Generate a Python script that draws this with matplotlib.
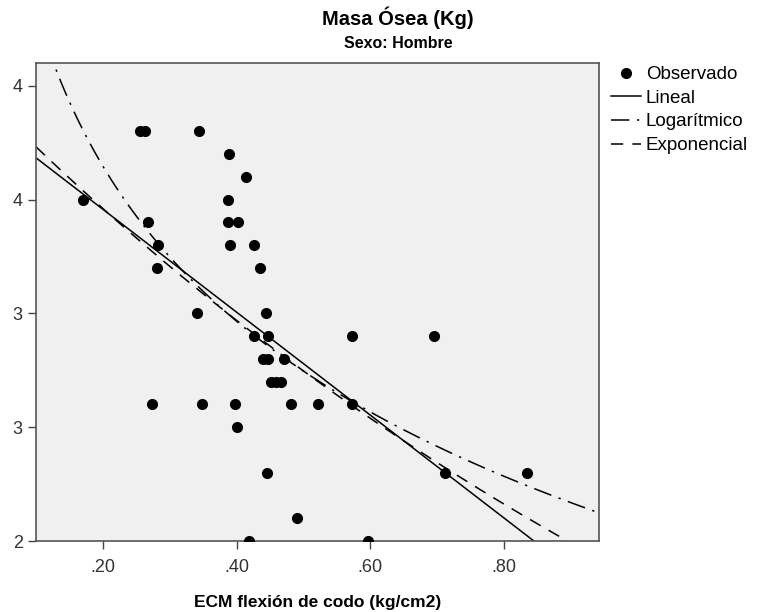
import numpy as np
import matplotlib
matplotlib.use('Agg')
import matplotlib.pyplot as plt

plt.rcParams['font.family'] = ['Liberation Sans', 'DejaVu Sans']

# ECM flexion de codo (kg/cm2) vs masa osea (kg)
ecm = [0.170, 0.255, 0.263, 0.344, 0.389, 0.414, 0.387, 0.387, 0.402, 0.267,
       0.282, 0.390, 0.426, 0.281, 0.435, 0.341, 0.444, 0.426, 0.447, 0.573,
       0.695, 0.439, 0.447, 0.471, 0.452, 0.459, 0.466, 0.273, 0.348, 0.398,
       0.481, 0.522, 0.573, 0.400, 0.445, 0.712, 0.834, 0.490, 0.418, 0.597]
masa = [4.0, 4.3, 4.3, 4.3, 4.2, 4.1, 4.0, 3.9, 3.9, 3.9,
        3.8, 3.8, 3.8, 3.7, 3.7, 3.5, 3.5, 3.4, 3.4, 3.4,
        3.4, 3.3, 3.3, 3.3, 3.2, 3.2, 3.2, 3.1, 3.1, 3.1,
        3.1, 3.1, 3.1, 3.0, 2.8, 2.8, 2.8, 2.6, 2.5, 2.5]

xticks = [0.2, 0.4, 0.6, 0.8]
xticklabels = ['.20', '.40', '.60', '.80']
yticks = [2.5, 3.0, 3.5, 4.0, 4.5]
yticklabels = ['2', '3', '3', '4', '4']

x = np.array(ecm)
y = np.array(masa)

# fitted curves
lin = np.polyfit(x, y, 1)
logc = np.polyfit(np.log(x), y, 1)
expc = np.polyfit(x, np.log(y), 1)

xmin, xmax = 0.1, 0.942
xs = np.linspace(xmin, xmax, 400)

fig = plt.figure(figsize=(7.57, 6.12), dpi=100)
ax = fig.add_axes([36/757, 71/612, 563/757, 478/612])
ax.set_facecolor('#f0f0f0')

ax.plot(x, y, 'o', color='black', markersize=7, label='Observado', zorder=3)
ax.plot(xs, np.polyval(lin, xs), color='black', lw=1.1, label='Lineal')
ax.plot(xs, np.polyval(logc, np.log(xs)), color='black', lw=1.1,
        dashes=[12, 5, 1.5, 5], label='Logarítmico')
ax.plot(xs, np.exp(np.polyval(expc, xs)), color='black', lw=1.1,
        dashes=[8, 6], label='Exponencial')

ax.set_xlim(xmin, xmax)
ax.set_ylim(2.5, 4.6)
ax.set_xticks(xticks)
ax.set_xticklabels(xticklabels)
ax.set_yticks(yticks)
ax.set_yticklabels(yticklabels)
ax.tick_params(direction='out', length=6, width=1, colors='#444444',
               labelsize=13, labelcolor='#333333')
ax.tick_params(axis='x', pad=7)
for s in ax.spines.values():
    s.set_color('#555555')
    s.set_linewidth(1.2)

ax.set_xlabel('ECM flexión de codo (kg/cm2)', fontsize=12.5, fontweight='bold',
              labelpad=14)

fig.text(398/757, 1 - 18/612, 'Masa Ósea (Kg)', ha='center', va='center',
         fontsize=14.5, fontweight='bold',
         family=['Liberation Sans Narrow', 'Liberation Sans'])
fig.text(398/757, 1 - 44/612, 'Sexo: Hombre', ha='center', va='center',
         fontsize=11.5, fontweight='bold',
         family=['Liberation Sans Narrow', 'Liberation Sans'])

leg = fig.legend(loc='upper left', bbox_to_anchor=(611/757, 1 - 66/612),
                 frameon=False, fontsize=13.5, handlelength=1.6,
                 handletextpad=0.25, labelspacing=0.35, borderpad=0,
                 borderaxespad=0)

fig.savefig('out.png', dpi=100)
